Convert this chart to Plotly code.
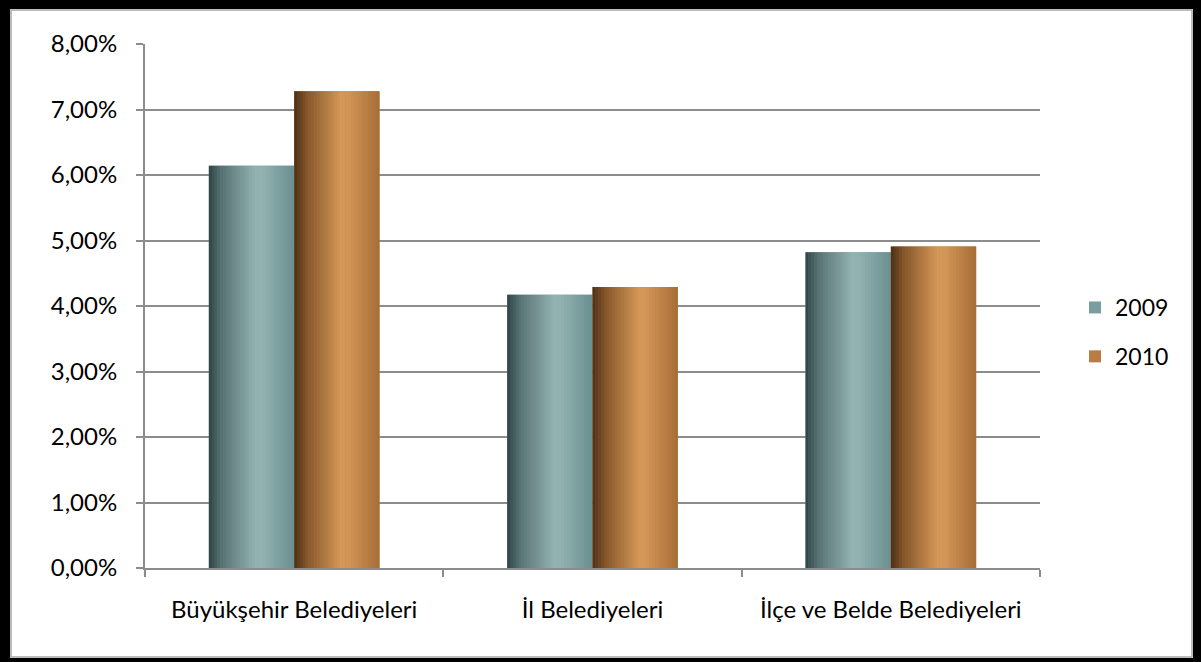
import plotly.graph_objects as go

categories = ["Büyükşehir Belediyeleri", "İl Belediyeleri", "İlçe ve Belde Belediyeleri"]
series_names = ["2009", "2010"]
values_2009 = [0.0614, 0.0417, 0.0482]
values_2010 = [0.0728, 0.0429, 0.0491]

W, H = 1201, 662
L, R, T, B = 145, 161, 44, 94
PW, PH = W - L - R, H - T - B

def px_x(p):
    return (p - L) / PW

def px_y(p):
    return (H - B - p) / PH

def hex2rgb(h):
    h = h.lstrip("#")
    return tuple(int(h[i:i + 2], 16) for i in (0, 2, 4))

def grad(stops, colors, t):
    for i in range(len(stops) - 1):
        if stops[i] <= t <= stops[i + 1]:
            f = (t - stops[i]) / (stops[i + 1] - stops[i])
            a, b = hex2rgb(colors[i]), hex2rgb(colors[i + 1])
            c = [round(a[k] + (b[k] - a[k]) * f) for k in range(3)]
            return "rgb(%d,%d,%d)" % tuple(c)
    return colors[-1]

stops = [0, 0.15, 0.55, 0.64, 1.0]
grad_2009 = ["#2f4345", "#587273", "#93b3b2", "#91b1b0", "#6a8f8f"]
grad_2010 = ["#4a3017", "#85562a", "#d59858", "#d29556", "#a66d37"]
legend_colors = ["#7a9e9e", "#b87d45"]

bar_w = 0.286
N = 30
fig = go.Figure()

for si, (name, vals, gcols) in enumerate(zip(series_names, [values_2009, values_2010], [grad_2009, grad_2010])):
    base_off = -bar_w if si == 0 else 0.0
    fig.add_trace(go.Bar(
        x=categories, y=vals, name=name, width=bar_w, offset=base_off,
        marker=dict(color=legend_colors[si], line=dict(width=0)),
        legendgroup=name, showlegend=True, hoverinfo="skip"))
    sw = bar_w / N
    for i in range(N):
        t = (i + 0.5) / N
        fig.add_trace(go.Bar(
            x=categories, y=vals, width=sw * 1.15 if i < N - 1 else sw,
            offset=base_off + i * sw,
            marker=dict(color=grad(stops, gcols, t), line=dict(width=0)),
            legendgroup=name, showlegend=False, hoverinfo="skip"))

grid_c = "#8c8c8c"
font_f = "Lato, 'Open Sans', sans-serif"

shapes = []
def rect_px(x0, y0, x1, y1, **kw):
    return dict(type="rect", xref="paper", yref="paper",
                x0=px_x(x0), x1=px_x(x1), y0=px_y(y1), y1=px_y(y0), **kw)

shapes.append(rect_px(-5, -5, 10, H + 5, fillcolor="black", line=dict(width=0), layer="above"))
shapes.append(rect_px(-5, -5, W + 5, 9, fillcolor="black", line=dict(width=0), layer="above"))
shapes.append(rect_px(1193, -5, W + 5, H + 5, fillcolor="black", line=dict(width=0), layer="above"))
shapes.append(rect_px(-5, 658, W + 5, H + 5, fillcolor="black", line=dict(width=0), layer="above"))
shapes.append(rect_px(11, 10, 1192, 657, fillcolor="rgba(0,0,0,0)", line=dict(color="#a6a6a6", width=1.5), layer="above"))

fig.update_layout(
    width=W, height=H,
    margin=dict(l=L, r=R, t=T, b=B, pad=0),
    paper_bgcolor="white", plot_bgcolor="white",
    barmode="overlay",
    separators=",.",
    font=dict(family=font_f, size=24, color="#000000"),
    showlegend=True,
    legend=dict(x=px_x(1075), y=px_y(332), xanchor="left", yanchor="middle",
                traceorder="grouped", tracegroupgap=16,
                font=dict(family=font_f, size=23, color="#000000"),
                bgcolor="rgba(0,0,0,0)", itemwidth=30),
    shapes=shapes,
    xaxis=dict(type="category", range=[-0.5, 2.5], showline=True, linecolor=grid_c, linewidth=2,
               ticks="outside", tickson="boundaries", ticklen=7, tickwidth=2, tickcolor=grid_c,
               showgrid=False, ticklabelstandoff=19, fixedrange=True),
    yaxis=dict(range=[0, 0.08], dtick=0.01, tick0=0, tickformat=".2%",
               showline=True, linecolor=grid_c, linewidth=2,
               ticks="outside", ticklen=7, tickwidth=2, tickcolor=grid_c,
               showgrid=True, gridcolor=grid_c, gridwidth=2, zeroline=False,
               ticklabelstandoff=14, fixedrange=True),
)

fig.write_html("out.html", config={"displayModeBar": False},
               post_script="document.body.style.margin='0';")
